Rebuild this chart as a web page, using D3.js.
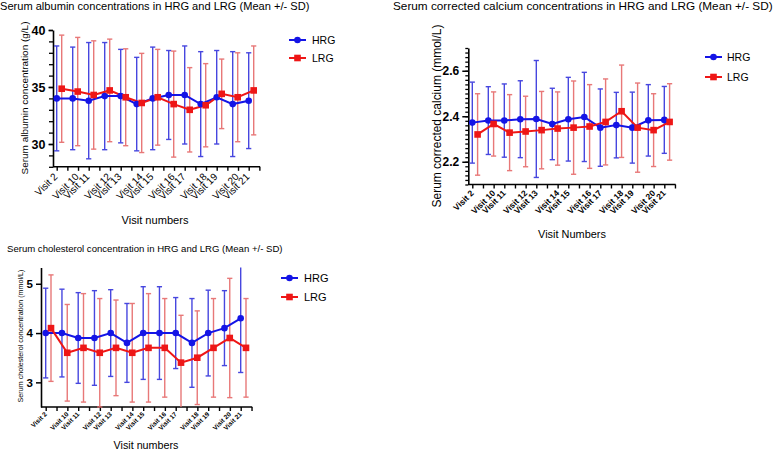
<!DOCTYPE html>
<html><head><meta charset="utf-8">
<script src="https://cdn.jsdelivr.net/npm/d3@7"></script>
<style>
body{margin:0;background:#fff}
svg{display:block}
text{font-family:"Liberation Sans",Arial,sans-serif;fill:#000}
</style>
</head><body>
<svg id="c" width="778" height="451"></svg>
<script>
const visits = ["Visit 2","Visit 10","Visit 11","Visit 12","Visit 13","Visit 14","Visit 15","Visit 16","Visit 17","Visit 18","Visit 19","Visit 20","Visit 21"];
const seriesNames = ["HRG","LRG"];

const albuminHRGMean = [34.0,34.0,33.8,34.2,34.2,33.5,34.0,34.3,34.3,33.5,34.1,33.5,33.8];
const albuminHRGSD   = [4.6,4.5,5.1,4.7,4.1,4.1,4.5,3.9,4.3,4.6,4.1,4.6,4.2];
const albuminLRGMean = [34.85,34.6,34.3,34.7,34.1,33.6,34.1,33.5,33.0,33.4,34.4,34.1,34.7];
const albuminLRGSD   = [4.7,4.75,4.75,4.5,4.25,4.35,4.2,4.65,3.7,3.65,3.05,3.9,3.9];
const albuminTicks = [30,35,40];

const calciumHRGMean = [2.372,2.381,2.381,2.387,2.388,2.366,2.387,2.397,2.350,2.361,2.350,2.382,2.384];
const calciumHRGSD   = [0.178,0.149,0.161,0.169,0.257,0.157,0.184,0.196,0.170,0.144,0.156,0.157,0.147];
const calciumLRGMean = [2.320,2.366,2.328,2.333,2.339,2.346,2.350,2.355,2.375,2.422,2.350,2.339,2.375];
const calciumLRGSD   = [0.179,0.141,0.167,0.155,0.170,0.161,0.205,0.184,0.189,0.203,0.196,0.160,0.168];
const calciumTicks = [2.2,2.4,2.6];

const cholHRGMean = [4.0,4.0,3.9,3.9,4.0,3.8,4.0,4.0,4.0,3.8,4.0,4.1,4.3];
const cholHRGSD   = [0.91,0.89,0.92,0.96,0.88,0.8,0.94,0.94,0.72,0.9,0.87,0.76,1.1];
const cholLRGMean = [4.1,3.6,3.7,3.6,3.7,3.6,3.7,3.7,3.4,3.5,3.7,3.9,3.7];
const cholLRGSD   = [1.08,0.98,1.1,1.1,0.97,1.0,1.1,1.0,0.96,0.95,1.0,1.21,1.0];
const cholTicks = [3,4,5];

const COL = {HRG:"#1414e6", LRG:"#ee1616", HRGerr:"#3434dc", LRGerr:"#e66a6a"};
const svg = d3.select("#c");

function fitText(t, w){
  const len = t.node().getComputedTextLength();
  const fs = parseFloat(t.attr("font-size"));
  t.attr("font-size", fs * w / len);
}

function drawPanel(c){
  const g = svg.append("g");
  const x = d3.scaleLinear().domain([0, visits.length-1]).range([c.x0, c.x0 + (visits.length-1)*c.step]);
  const y = d3.scaleLinear().domain(c.yDomain).range(c.yRange);
  const y0 = c.yRange[0];

  // minor y ticks
  if (c.minor){
    const m = g.append("g").attr("transform",`translate(${c.axisX},0)`)
      .call(d3.axisLeft(y).tickValues(c.minor).tickSize(c.minorLen).tickSizeOuter(0).tickFormat(""));
    m.select(".domain").remove();
    m.selectAll("line").attr("stroke","#000").attr("stroke-width",1.3);
  }
  // major y axis
  const ya = g.append("g").attr("transform",`translate(${c.axisX},0)`)
    .call(d3.axisLeft(y).tickValues(c.yTicks).tickSize(c.majorLen).tickSizeOuter(0).tickPadding(3).tickFormat(c.fmt));
  ya.select(".domain").attr("stroke","#000").attr("stroke-width",1.6);
  ya.selectAll("line").attr("stroke","#000").attr("stroke-width",1.5);
  ya.selectAll("text").attr("font-size",c.yTickFont).attr("font-weight","bold")
    .attr("font-family","'Liberation Sans',Arial,sans-serif");

  // x axis
  const tickIdx = d3.range(0, c.nXTicks).map(k => k*2/3);
  const xa = g.append("g").attr("transform",`translate(0,${y0})`)
    .call(d3.axisBottom(x).tickValues(tickIdx).tickSize(c.xTickLen).tickSizeOuter(0).tickFormat(""));
  xa.select(".domain").remove();
  xa.selectAll("line").attr("stroke","#000").attr("stroke-width",1.4);
  g.append("line").attr("x1",c.axisX).attr("x2",x(tickIdx[tickIdx.length-1])+0.7)
    .attr("y1",y0).attr("y2",y0).attr("stroke","#000").attr("stroke-width",1.6);

  // x labels
  visits.forEach((v,i)=>{
    const tx = x(Math.ceil(1.5*i)*2/3);
    g.append("text").attr("transform",`translate(${tx+c.lblDx},${y0+c.lblDy}) rotate(-45)`)
      .attr("text-anchor","end").attr("dy","0.35em")
      .attr("font-size",c.xLblFont).attr("font-weight",c.xLblWeight).text(v);
  });

  // series
  const series = [
    {name:"HRG", mean:c.hrgMean, sd:c.hrgSD, off:0},
    {name:"LRG", mean:c.lrgMean, sd:c.lrgSD, off:c.off}
  ];
  const [dLo, dHi] = c.yDomain;
  series.forEach(s=>{
    const eg = g.append("g").attr("stroke",COL[s.name+"err"]).attr("stroke-width",1.4).attr("opacity",0.9);
    s.mean.forEach((m,i)=>{
      const px = x(i)+s.off;
      const top = m + s.sd[i], bot = m - s.sd[i];
      eg.append("line").attr("x1",px).attr("x2",px)
        .attr("y1",y(Math.min(top,dHi))).attr("y2",y(Math.max(bot,dLo)));
      if (top <= dHi) eg.append("line").attr("x1",px-c.cap).attr("x2",px+c.cap).attr("y1",y(top)).attr("y2",y(top));
      if (bot >= dLo) eg.append("line").attr("x1",px-c.cap).attr("x2",px+c.cap).attr("y1",y(bot)).attr("y2",y(bot));
    });
  });
  series.forEach(s=>{
    const line = d3.line().x((d,i)=>x(i)+s.off).y(d=>y(d));
    g.append("path").datum(s.mean).attr("d",line).attr("fill","none")
      .attr("stroke",COL[s.name]).attr("stroke-width",c.lineW);
  });
  series.forEach(s=>{
    s.mean.forEach((m,i)=>{
      const px = x(i)+s.off, py = y(m);
      if (s.name==="HRG") g.append("circle").attr("cx",px).attr("cy",py).attr("r",c.r).attr("fill",COL.HRG);
      else g.append("rect").attr("x",px-c.sq/2).attr("y",py-c.sq/2).attr("width",c.sq).attr("height",c.sq).attr("fill",COL.LRG);
    });
  });

  // legend
  seriesNames.forEach((n,k)=>{
    const ly = c.legY[k];
    g.append("line").attr("x1",c.legX[0]).attr("x2",c.legX[1]).attr("y1",ly).attr("y2",ly)
      .attr("stroke",COL[n]).attr("stroke-width",c.lineW);
    const mx = (c.legX[0]+c.legX[1])/2;
    if (n==="HRG") g.append("circle").attr("cx",mx).attr("cy",ly).attr("r",c.r).attr("fill",COL.HRG);
    else g.append("rect").attr("x",mx-c.sq/2).attr("y",ly-c.sq/2).attr("width",c.sq).attr("height",c.sq).attr("fill",COL.LRG);
    g.append("text").attr("x",c.legTextX).attr("y",ly).attr("dy","0.36em").attr("font-size",c.legFont).text(n);
  });

  // titles
  const t = g.append("text").attr("x",c.title.x).attr("y",c.title.y).attr("font-size",11).text(c.title.text);
  fitText(t, c.title.w);
  const yt = g.append("text").attr("transform",`translate(${c.yTitle.x},${c.yTitle.y}) rotate(-90)`)
    .attr("text-anchor","middle").attr("dy","0.35em").attr("font-size",11).text(c.yTitle.text);
  fitText(yt, c.yTitle.w);
  const xt = g.append("text").attr("x",c.xTitle.x).attr("y",c.xTitle.y).attr("text-anchor","middle")
    .attr("font-size",11).text(c.xTitle.text);
  fitText(xt, c.xTitle.w);
}

drawPanel({
  axisX:53, x0:56.7, step:16, off:5,
  yDomain:[28,40], yRange:[166.8,30], yTicks:albuminTicks, minor:d3.range(28,40.001,1),
  majorLen:4.5, minorLen:4, fmt:d3.format("d"), yTickFont:12.5,
  nXTicks:20, xTickLen:4, lblDx:-1, lblDy:8, xLblFont:10, xLblWeight:"normal",
  hrgMean:albuminHRGMean, hrgSD:albuminHRGSD, lrgMean:albuminLRGMean, lrgSD:albuminLRGSD,
  cap:2.6, lineW:2, r:3.3, sq:6.6,
  legX:[289,306], legY:[40,58], legTextX:312, legFont:10.5,
  title:{x:0, y:10, w:310, text:"Serum albumin concentrations in HRG and LRG (Mean +/- SD)"},
  yTitle:{x:24, y:98, w:153, text:"Serum albumin concentration (g/L)"},
  xTitle:{x:155, y:224, w:67, text:"Visit numbers"}
});

drawPanel({
  axisX:468.3, x0:472.3, step:16, off:5.3,
  yDomain:[2.1,2.7], yRange:[184.5,48], yTicks:calciumTicks, minor:d3.range(0,31).map(k=>2.1+k*0.02),
  majorLen:6, minorLen:3, fmt:d3.format(".1f"), yTickFont:12,
  nXTicks:20, xTickLen:4, lblDx:0, lblDy:7, xLblFont:8.5, xLblWeight:"bold",
  hrgMean:calciumHRGMean, hrgSD:calciumHRGSD, lrgMean:calciumLRGMean, lrgSD:calciumLRGSD,
  cap:2.6, lineW:2, r:3.3, sq:6.6,
  legX:[705,722], legY:[57,77], legTextX:727, legFont:10.5,
  title:{x:393, y:10, w:380, text:"Serum corrected calcium concentrations in HRG and LRG (Mean +/- SD)"},
  yTitle:{x:437, y:116, w:183, text:"Serum corrected calcium (mmol/L)"},
  xTitle:{x:572, y:238, w:68, text:"Visit Numbers"}
});

drawPanel({
  axisX:41, x0:45.7, step:16.25, off:5.3,
  yDomain:[2.5,5.33], yRange:[407,267.5], yTicks:cholTicks, minor:null,
  majorLen:5, minorLen:0, fmt:d3.format("d"), yTickFont:11.5,
  nXTicks:20, xTickLen:4, lblDx:0, lblDy:6, xLblFont:6.5, xLblWeight:"bold",
  hrgMean:cholHRGMean, hrgSD:cholHRGSD, lrgMean:cholLRGMean, lrgSD:cholLRGSD,
  cap:2.6, lineW:2, r:3.3, sq:6.6,
  legX:[281,298], legY:[278,297], legTextX:304, legFont:11,
  title:{x:7, y:252, w:276, text:"Serum cholesterol concentration in HRG and LRG (Mean +/- SD)"},
  yTitle:{x:20, y:336, w:133, text:"Serum cholesterol concentration (mmol/L)"},
  xTitle:{x:146, y:449, w:65, text:"Visit numbers"}
});
</script>
</body></html>
